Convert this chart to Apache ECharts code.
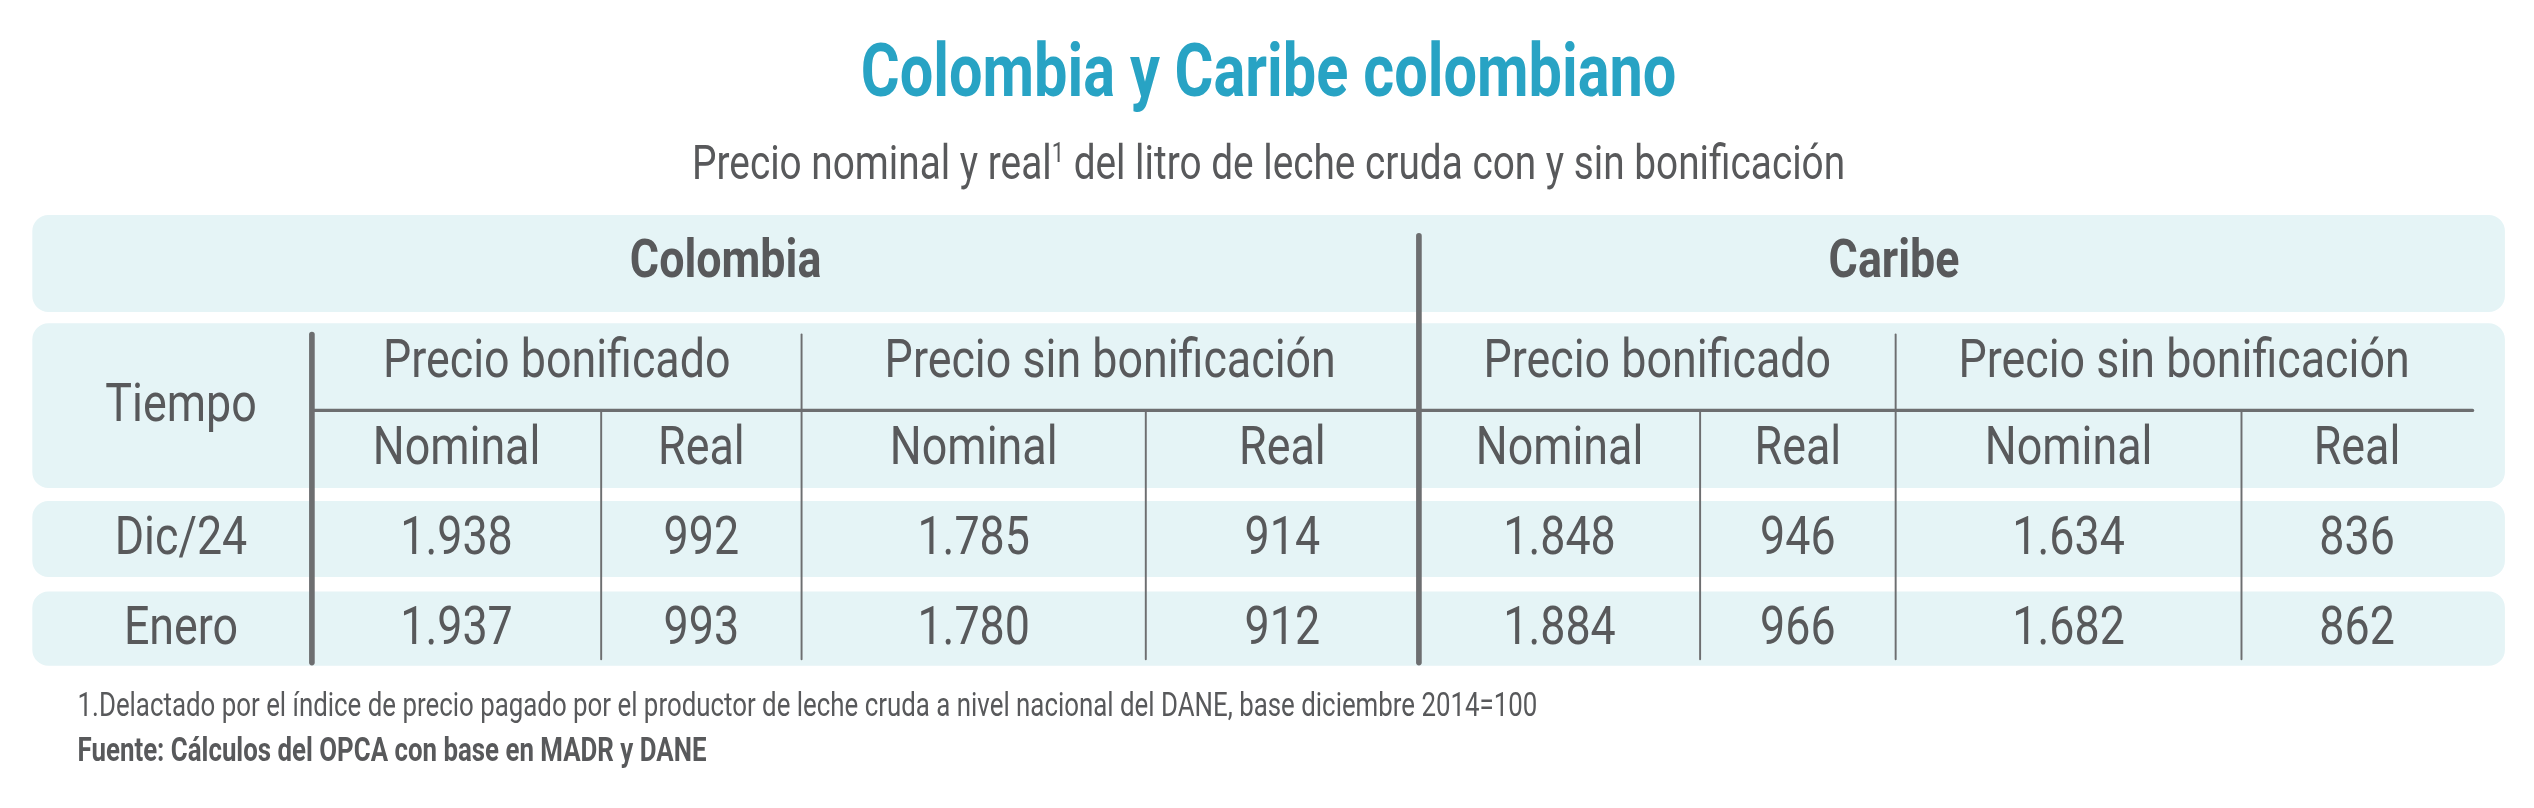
<!DOCTYPE html><html><head><meta charset="utf-8">
<script src="https://cdn.jsdelivr.net/npm/echarts@6/dist/echarts.min.js"></script>
<style>html,body{margin:0;background:#fff}#c{width:2534px;height:808px}</style></head><body><div id="c"></div>
<script>
const title = 'Colombia y Caribe colombiano';
const subtitle = 'Precio nominal y real';
const subtitleRest = ' del litro de leche cruda con y sin bonificación';
const regions = ['Colombia', 'Caribe'];
const groups = ['Precio bonificado', 'Precio sin bonificación', 'Precio bonificado', 'Precio sin bonificación'];
const subHeaders = ['Nominal', 'Real', 'Nominal', 'Real', 'Nominal', 'Real', 'Nominal', 'Real'];
const periods = ['Dic/24', 'Enero'];
const rowDic = ['1.938', '992', '1.785', '914', '1.848', '946', '1.634', '836'];
const rowEnero = ['1.937', '993', '1.780', '912', '1.884', '966', '1.682', '862'];
const footnote = '1.Delactado por el índice de precio pagado por el productor de leche cruda a nivel nacional del DANE, base diciembre 2014=100';
const source = 'Fuente: Cálculos del OPCA con base en MADR y DANE';

const s = 2534 / 1568;
const F = '"Roboto", sans-serif';
const SX = 0.84;
const TXT = '#58595b', LINE = '#6d6e70', BAND = '#e5f4f6';
const colX = [193, 372, 496, 709, 878, 1052, 1173, 1387, 1530];
const rowsY = [[310, 357], [366, 412]];
const g = [];
const S = v => v * s;
function band(x1, y1, x2, y2) { g.push({type:'rect', shape:{x:S(x1), y:S(y1), width:S(x2-x1), height:S(y2-y1), r:S(10)}, style:{fill:BAND}, z:1}); }
function text(t, x, y, size, opt, sx) { g.push({type:'text', x:S(x), y:S(y), scaleX: sx || SX, style:Object.assign({text:t, fill:TXT, font:`${size*s}px ${F}`, align:'center', verticalAlign:'middle'}, opt||{}), z:5}); }
function line(x1, y1, x2, y2, w) { g.push({type:'line', shape:{x1:S(x1), y1:S(y1), x2:S(x2), y2:S(y2)}, style:{stroke:LINE, lineWidth:w*s, lineCap:'round'}, z:4}); }

text(title, 785, 48, 46, {fill:'#28a3c4', font:`bold ${46*s}px ${F}`}, 0.8);
text(`{a|${subtitle}}{b|1}{a|${subtitleRest}}`, 785, 103, 30, {
  rich:{a:{font:`${30*s}px ${F}`, fill:TXT, verticalAlign:'bottom'}, b:{font:`${17*s}px ${F}`, fill:TXT, verticalAlign:'top', padding:[0,0,S(14),0]}}
}, 0.8);

band(20, 133, 1550, 193); band(20, 200, 1550, 302);
rowsY.forEach(r => band(20, r[0], 1550, r[1]));

text(regions[0], 449, 163, 33, {font:`bold ${33*s}px ${F}`});
text(regions[1], 1172, 163, 33, {font:`bold ${33*s}px ${F}`});
text('Tiempo', 112, 252, 33);
groups.forEach((t, i) => text(t, (colX[2*i] + colX[2*i+2]) / 2, 225, 33));
subHeaders.forEach((t, i) => text(t, (colX[i] + colX[i+1]) / 2, 279, 33));
[rowDic, rowEnero].forEach((row, r) => {
  const cy = (rowsY[r][0] + rowsY[r][1]) / 2 + 1;
  text(periods[r], 112, cy, 33);
  row.forEach((v, i) => text(v, (colX[i] + colX[i+1]) / 2, cy, 33));
});
line(193, 254, 1530, 254, 2);
line(193, 207, 193, 410, 3.5);
line(878, 146, 878, 410, 3.5);
[372, 709, 1052, 1387].forEach(x => line(x, 255, x, 408, 1.2));
[496, 1173].forEach(x => line(x, 207, x, 408, 1.2));
text(footnote, 48, 438, 20, {align:'left'}, 0.8);
text(source, 48, 466, 20, {align:'left', font:`bold ${20*s}px ${F}`}, 0.8);

const chart = echarts.init(document.getElementById('c'));
chart.setOption({animation:false, graphic:{elements:g}});
</script></body></html>
